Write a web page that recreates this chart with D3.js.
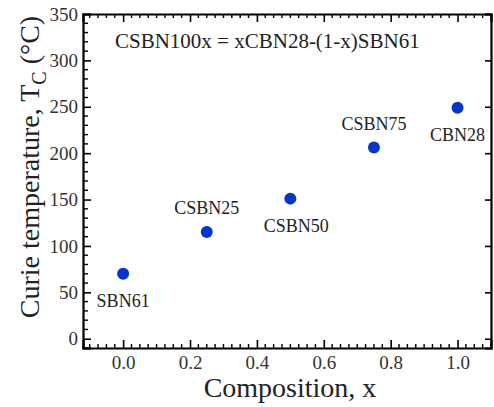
<!DOCTYPE html>
<html>
<head>
<meta charset="utf-8">
<script src="https://cdn.jsdelivr.net/npm/d3@7"></script>
<style>
    body { margin: 0; background: #fff; }
    .axis path, .axis line { stroke: #000; }
</style>
</head>
<body>
<div id="chart"></div>
<script>
// Curie temperature vs composition
const samples = ['SBN61', 'CSBN25', 'CSBN50', 'CSBN75', 'CBN28'];
const composition = [0.0, 0.25, 0.5, 0.75, 1.0];
const curieTemp = [70, 115, 151, 206, 249];
const labelSide = ['below', 'above', 'below', 'above', 'below'];
const xTicks = [0.0, 0.2, 0.4, 0.6, 0.8, 1.0];
const yTicks = [0, 50, 100, 150, 200, 250, 300, 350];

const serif = '"Liberation Serif", "Times New Roman", serif';

const margin = {top: 14, right: 3, bottom: 59, left: 83};
const width = 494 - margin.left - margin.right;
const height = 407 - margin.top - margin.bottom;

const x = d3.scaleLinear().domain([-0.12, 1.1]).range([0, width]);
const y = d3.scaleLinear().domain([-10, 350]).range([height, 0]);

const svg = d3.select('#chart').append('svg')
    .attr('width', 494)
    .attr('height', 407)
    .append('g')
    .attr('transform', 'translate(' + margin.left + ',' + margin.top + ')');

const xMinor = d3.range(-0.1, 1.1, 0.025).filter(v => Math.abs(v * 5 - Math.round(v * 5)) > 1e-6);
const yMinor = d3.range(-10, 351, 10).filter(v => v % 50 !== 0);

// bottom axis (inward ticks)
const bottomAxis = svg.append('g').attr('class', 'axis')
    .attr('transform', 'translate(0,' + height + ')');
bottomAxis.call(d3.axisBottom(x).tickValues(xTicks).tickSize(-8).tickPadding(8)
    .tickFormat(d3.format('.1f')));
bottomAxis.selectAll('line.minor').data(xMinor).enter().append('line')
    .attr('class', 'minor')
    .attr('x1', d => x(d)).attr('x2', d => x(d))
    .attr('y1', 0).attr('y2', -4);

// top axis
const topAxis = svg.append('g').attr('class', 'axis');
topAxis.call(d3.axisTop(x).tickValues(xTicks).tickSize(-8).tickFormat(''));
topAxis.selectAll('line.minor').data(xMinor).enter().append('line')
    .attr('class', 'minor')
    .attr('x1', d => x(d)).attr('x2', d => x(d))
    .attr('y1', 0).attr('y2', 4);

// left axis
const leftAxis = svg.append('g').attr('class', 'axis');
leftAxis.call(d3.axisLeft(y).tickValues(yTicks).tickSize(-8).tickPadding(5));
leftAxis.selectAll('line.minor').data(yMinor).enter().append('line')
    .attr('class', 'minor')
    .attr('x1', 0).attr('x2', 5)
    .attr('y1', d => y(d)).attr('y2', d => y(d));

// right axis
svg.append('g').attr('class', 'axis')
    .attr('transform', 'translate(' + width + ',0)')
    .call(d3.axisRight(y).tickValues(yTicks).tickSize(-6).tickFormat(''));

svg.selectAll('.axis').attr('font-family', serif);
svg.selectAll('.axis .domain').attr('stroke-width', 2.2);
svg.selectAll('.axis .tick line').attr('stroke-width', 1.6);
svg.selectAll('.axis line.minor').attr('stroke-width', 1.4);
svg.selectAll('.axis .tick text')
    .style('font-family', serif)
    .style('font-size', '19px')
    .style('fill', '#333');

// points
svg.selectAll('circle.pt').data(samples).enter().append('circle')
    .attr('class', 'pt')
    .attr('cx', (d, i) => x(composition[i]))
    .attr('cy', (d, i) => y(curieTemp[i]))
    .attr('r', 6)
    .attr('fill', '#0834c8');

// point labels
svg.selectAll('text.lbl').data(samples).enter().append('text')
    .attr('class', 'lbl')
    .attr('x', (d, i) => x(composition[i]) + (i === 2 ? 6 : 0))
    .attr('y', (d, i) => y(curieTemp[i]) + (labelSide[i] === 'below' ? 33 : -18))
    .attr('text-anchor', 'middle')
    .style('font-family', serif)
    .style('font-size', '18px')
    .style('fill', '#222')
    .text(d => d);

// formula annotation
svg.append('text')
    .attr('x', 32)
    .attr('y', 34)
    .style('font-family', serif)
    .style('font-size', '21px')
    .style('fill', '#222')
    .text('CSBN100x = xCBN28-(1-x)SBN61');

// axis titles
svg.append('text')
    .attr('x', width / 2 + 3)
    .attr('y', height + 49)
    .attr('text-anchor', 'middle')
    .style('font-family', serif)
    .style('font-size', '28px')
    .style('fill', '#222')
    .text('Composition, x');

const yTitle = svg.append('text')
    .attr('transform', 'rotate(-90)')
    .attr('x', -153)
    .attr('y', -44)
    .attr('text-anchor', 'middle')
    .style('font-family', serif)
    .style('font-size', '28px')
    .style('fill', '#222');
yTitle.append('tspan').text('Curie temperature, T');
yTitle.append('tspan').attr('dy', 7).style('font-size', '20px').text('C');
yTitle.append('tspan').attr('dy', -7).text(' (°C)');
</script>
</body>
</html>
